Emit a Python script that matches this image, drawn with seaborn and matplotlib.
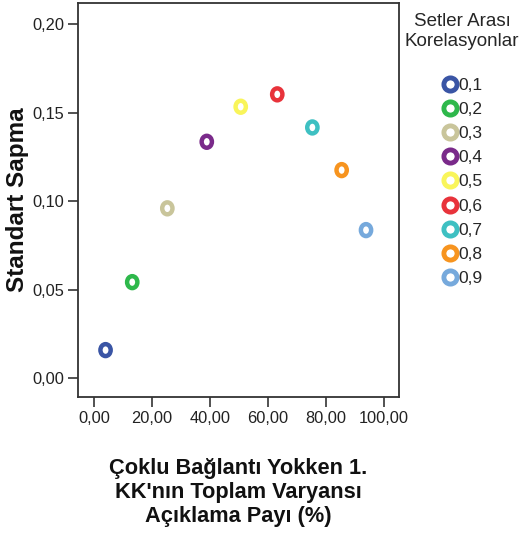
import matplotlib
matplotlib.use("Agg")
import matplotlib.pyplot as plt
from matplotlib.lines import Line2D
from matplotlib.path import Path
from matplotlib.ticker import FuncFormatter
import numpy as np
import seaborn as sns
import pandas as pd

correlations = ["0,1", "0,2", "0,3", "0,4", "0,5", "0,6", "0,7", "0,8", "0,9"]
explained_pct = [4.0, 13.2, 25.3, 38.9, 50.6, 63.2, 75.3, 85.4, 93.8]
std_dev = [0.0158, 0.0542, 0.0959, 0.1335, 0.1533, 0.1603, 0.1416, 0.1175, 0.0836]
colors = ["#3a55a5", "#2eb84b", "#c9c59b", "#7a2a8a", "#f9f55a",
          "#e8333b", "#3ec0c2", "#f7941f", "#76a9dc"]
x_ticks = [0, 20, 40, 60, 80, 100]
y_ticks = [0.00, 0.05, 0.10, 0.15, 0.20]

sns.set_theme(style="ticks")
plt.rcParams["font.family"] = ["Liberation Sans", "DejaVu Sans"]

df = pd.DataFrame({"x": explained_pct, "y": std_dev, "r": correlations})

# slightly tall elliptical ring marker
circ = Path.unit_circle()
ell = Path(circ.vertices * np.array([0.86, 1.0]), circ.codes)

fig = plt.figure(figsize=(5.21, 5.40), dpi=100)
ax = fig.add_axes([0.1497, 0.2648, 0.6163, 0.7296])

sns.scatterplot(data=df, x="x", y="y", hue="r", palette=colors, s=74,
                marker=ell, legend=False, ax=ax, zorder=3)
coll = ax.collections[0]
fc = coll.get_facecolors()
coll.set_edgecolors(fc)
coll.set_facecolors("white")
coll.set_linewidths(3.2)

ax.set_xlim(-5.5, 105.2)
ax.set_ylim(-0.0107, 0.2119)
ax.set_xticks(x_ticks)
ax.set_yticks(y_ticks)
fmt = FuncFormatter(lambda v, p: f"{v:.2f}".replace(".", ","))
ax.xaxis.set_major_formatter(fmt)
ax.yaxis.set_major_formatter(fmt)
ax.tick_params(axis="both", labelsize=11.8, length=7, width=1.2, color="#333333",
               labelcolor="#222222", pad=3)
for s in ax.spines.values():
    s.set_linewidth(1.3)
    s.set_color("#333333")

ax.set_xlabel("Çoklu Bağlantı Yokken 1.\nKK'nın Toplam Varyansı\nAçıklama Payı (%)",
              fontsize=15.7, fontweight="bold", labelpad=23, linespacing=1.2,
              color="#111111")
ax.set_ylabel("Standart Sapma", fontsize=17.5, fontweight="bold", labelpad=2,
              color="#111111")

handles = [Line2D([0], [0], marker="o", linestyle="none", markersize=9.5,
                  markerfacecolor="white", markeredgecolor=c, markeredgewidth=3.5)
           for c in colors]
leg = fig.legend(handles, correlations, title="Setler Arası\nKorelasyonlar",
                 loc="upper center", bbox_to_anchor=(0.887, 0.998), frameon=False,
                 prop={"size": 12.5}, title_fontproperties={"size": 13.5},
                 handlelength=0.9, handletextpad=0.05, labelspacing=0.52,
                 borderpad=0.2)
leg.get_title().set_multialignment("center")
leg._legend_box.sep = 20

fig.savefig("out.png", dpi=100)
